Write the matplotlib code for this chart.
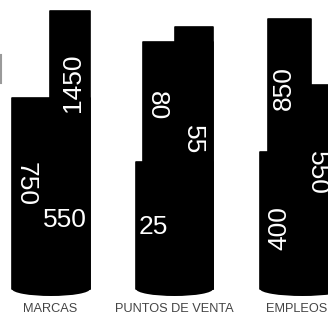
import matplotlib
matplotlib.use("Agg")
import matplotlib.pyplot as plt
from matplotlib.patches import Ellipse

# ---- data ----
categories = ["MARCAS", "PUNTOS DE VENTA", "EMPLEOS"]
marcas_values = ["750", "1450", "550"]
puntos_values = ["80", "55", "25"]
empleos_values = ["850", "550", "400"]
# visual heights of the stacked silhouettes (px above baseline)
marcas_heights = [191, 278]
puntos_heights = [127, 247, 262]
empleos_heights = [137, 270, 204]

# ---- layout ----
W, H = 328, 318
base_px = 289
base = H - base_px
marcas_edges = [(12, 90), (50, 90)]
puntos_edges = [(136, 213), (143, 213), (175, 213)]
empleos_edges = [(260, 345), (268, 311), (311, 345)]

fig = plt.figure(figsize=(W / 100, H / 100), dpi=100)
ax = fig.add_axes([0, 0, 1, 1])
ax.set_xlim(0, W)
ax.set_ylim(0, H)
ax.axis("off")

for heights, edges in [(marcas_heights, marcas_edges),
                       (puntos_heights, puntos_edges),
                       (empleos_heights, empleos_edges)]:
    for h, (l, r) in zip(heights, edges):
        ax.bar(l, h, width=r - l, bottom=base, align="edge", color="black",
               linewidth=1.2, edgecolor="black", joinstyle="round")
    l0, r0 = edges[0]
    ax.add_patch(Ellipse(((l0 + r0) / 2, base), r0 - l0, 14, color="black", lw=0))

# fragment of neighbouring graphic at the left edge
ax.plot([1, 1], [H - 55, H - 83], color="#9a9a9a", lw=1.5)

font = "Liberation Sans"
fs = 19
def lab(txt, x, y, rot):
    ax.text(x, H - y, txt, color="white", fontsize=fs, family=font,
            rotation=rot, ha="center", va="center")

# MARCAS
lab(marcas_values[0], 25.5, 184, -90)
lab(marcas_values[1], 73, 83, 90)
lab(marcas_values[2], 65, 220, 0)
# PUNTOS
lab(puntos_values[0], 157, 106, -90)
lab(puntos_values[1], 193, 140, -90)
lab(puntos_values[2], 153, 227, 0)
# EMPLEOS
lab(empleos_values[0], 284, 88, 90)
lab(empleos_values[1], 316.5, 173, -90)
lab(empleos_values[2], 279, 228, 90)

for cat, cx in zip(categories, [50, 174, 297]):
    ax.text(cx, H - 308.5, cat, color="#444444", fontsize=9.2, family=font,
            ha="center", va="center")

fig.savefig("out.png", dpi=100)
